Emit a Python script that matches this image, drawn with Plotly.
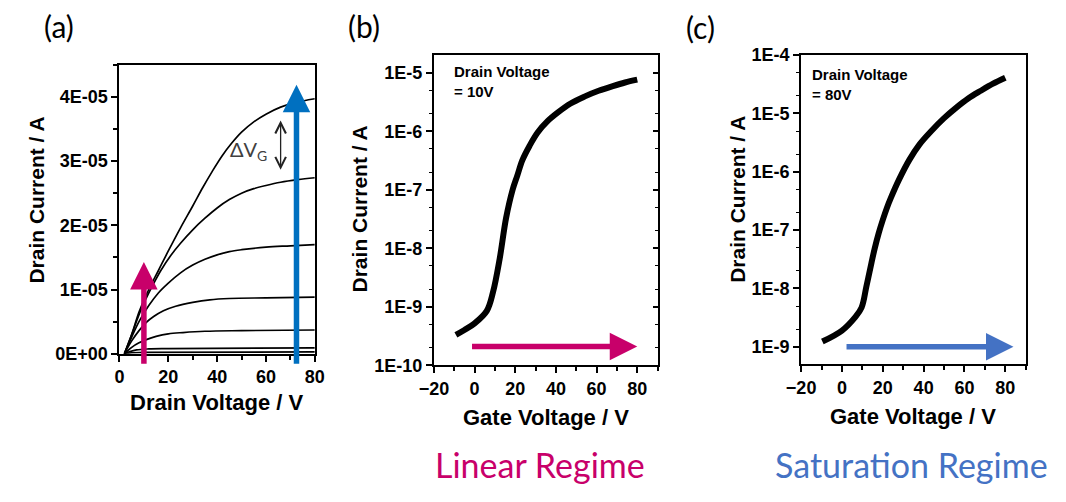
import math
import plotly.graph_objects as go

# ---- (a) output characteristics: drain current (1E-5 A) vs drain voltage (V)
vd_1 = [2, 5, 8, 12, 16, 20, 25, 30, 34, 38, 42, 46, 50, 55, 60, 66, 72, 80]
id_1 = [0, 0.3, 0.65, 1.0, 1.3, 1.6, 1.96, 2.3, 2.58, 2.84, 3.08, 3.28, 3.45, 3.61, 3.73, 3.84, 3.91, 3.97]
vd_2 = [2, 5, 9, 13, 17, 21, 25, 30, 35, 40, 45, 50, 55, 60, 66, 73, 80]
id_2 = [0, 0.3, 0.7, 1.02, 1.3, 1.53, 1.72, 1.93, 2.11, 2.27, 2.4, 2.5, 2.57, 2.62, 2.67, 2.71, 2.74]
vd_3 = [2, 5, 8, 12, 16, 20, 25, 30, 35, 40, 45, 50, 60, 70, 80]
id_3 = [0, 0.26, 0.5, 0.75, 0.95, 1.1, 1.26, 1.38, 1.47, 1.54, 1.59, 1.62, 1.66, 1.68, 1.70]
vd_4 = [2, 5, 8, 11, 14, 18, 23, 30, 37, 45, 60, 80]
id_4 = [0, 0.2, 0.36, 0.49, 0.58, 0.67, 0.74, 0.8, 0.84, 0.86, 0.87, 0.88]
vd_5 = [2, 5, 8, 11, 15, 20, 26, 35, 50, 80]
id_5 = [0, 0.1, 0.17, 0.22, 0.27, 0.31, 0.33, 0.35, 0.36, 0.37]
vd_6 = [2, 4, 7, 12, 20, 80]
id_6 = [0, 0.03, 0.06, 0.075, 0.08, 0.09]
vd_7 = [2, 5, 10, 80]
id_7 = [0, 0.015, 0.02, 0.03]
output_curves = [(vd_1, id_1), (vd_2, id_2), (vd_3, id_3), (vd_4, id_4),
                 (vd_5, id_5), (vd_6, id_6), (vd_7, id_7)]

# ---- (b) transfer curve, drain voltage = 10 V
vg_lin = [-9.2, -5, 0, 6, 9.1, 12.3, 15.5, 18.7, 21, 23.5, 27, 31, 36, 41, 47, 54, 61, 68, 74, 80]
id_lin = [3.3e-10, 4.0e-10, 5.2e-10, 8.5e-10, 1.8e-9, 6.5e-9, 3.3e-8, 1.0e-7, 1.74e-7,
          3.2e-7, 5.6e-7, 9.5e-7, 1.5e-6, 2.1e-6, 2.95e-6, 3.9e-6, 4.9e-6, 5.9e-6, 6.8e-6, 7.6e-6]

# ---- (c) transfer curve, drain voltage = 80 V
vg_sat = [-9.6, 0, 6.4, 9.6, 12, 14.4, 16, 18, 20, 22, 24, 28, 33, 38, 44, 50, 56, 62, 68, 74, 80]
id_sat = [1.23e-9, 1.9e-9, 3.2e-9, 4.7e-9, 1.1e-8, 2.7e-8, 4.8e-8, 8.9e-8, 1.5e-7, 2.4e-7,
          3.6e-7, 7.4e-7, 1.6e-6, 2.95e-6, 5.1e-6, 8.3e-6, 1.26e-5, 1.82e-5, 2.45e-5, 3.24e-5, 4.1e-5]

# tick labels
a_xticks = [0, 20, 40, 60, 80]
a_yticks = [0, 1e-5, 2e-5, 3e-5, 4e-5]
a_yticktext = ["0E+00", "1E-05", "2E-05", "3E-05", "4E-05"]
g_xticks = [-20, 0, 20, 40, 60, 80]
b_yticks = [1e-10, 1e-9, 1e-8, 1e-7, 1e-6, 1e-5]
b_yticktext = ["1E-10", "1E-9", "1E-8", "1E-7", "1E-6", "1E-5"]
c_yticks = [1e-9, 1e-8, 1e-7, 1e-6, 1e-5, 1e-4]
c_yticktext = ["1E-9", "1E-8", "1E-7", "1E-6", "1E-5", "1E-4"]

PINK = "#C8006A"
BLUE_A = "#0070C0"
BLUE_C = "#4472C4"
W, H = 1066, 502
BOLD = dict(family="Arial, Liberation Sans, sans-serif", color="black", weight="bold")
SOFT = "Lato, Open Sans, sans-serif"


def px_x(p):
    return p / W


def px_y(p):
    return 1 - p / H


fig = go.Figure()

for vd, idd in output_curves:
    fig.add_trace(go.Scatter(x=vd, y=[v * 1e-5 for v in idd], mode="lines",
                             line=dict(color="black", width=1.7, shape="spline", smoothing=1.0),
                             xaxis="x", yaxis="y", showlegend=False, hoverinfo="skip"))

fig.add_trace(go.Scatter(x=vg_lin, y=id_lin, mode="lines",
                         line=dict(color="black", width=6, shape="spline", smoothing=1.0),
                         xaxis="x2", yaxis="y2", showlegend=False))
# carries the inward mirror ticks on the right edge of (b)
fig.add_trace(go.Scatter(x=vg_lin, y=id_lin, mode="lines", line=dict(width=0),
                         opacity=0, xaxis="x2", yaxis="y4", showlegend=False, hoverinfo="skip"))
fig.add_trace(go.Scatter(x=vg_sat, y=id_sat, mode="lines",
                         line=dict(color="black", width=6, shape="spline", smoothing=1.0),
                         xaxis="x3", yaxis="y3", showlegend=False))

frame = dict(showline=True, linecolor="black", linewidth=2, mirror=True,
             showgrid=False, zeroline=False, ticks="outside", tickwidth=2,
             ticklen=6, tickcolor="black", tickfont=dict(size=18, **BOLD))

fig.update_layout(
    width=W, height=H, margin=dict(l=0, r=0, t=0, b=0),
    paper_bgcolor="white", plot_bgcolor="white",
    xaxis=dict(domain=[px_x(107), px_x(307)], range=[0, 80], anchor="y",
               tickvals=a_xticks, minor=dict(dtick=10, tick0=0, ticks="outside", ticklen=4,
                                             tickwidth=1.5, tickcolor="black"), **frame),
    yaxis=dict(domain=[px_y(358), px_y(57)], range=[0, 4.5e-5], anchor="x",
               tickvals=a_yticks, ticktext=a_yticktext,
               minor=dict(dtick=5e-6, tick0=0, ticks="outside", ticklen=4,
                          tickwidth=1.5, tickcolor="black"), **frame),
    xaxis2=dict(domain=[px_x(429), px_x(658)], range=[-20, 90], anchor="y2",
                tickvals=g_xticks, minor=dict(dtick=10, tick0=0, ticks="outside", ticklen=4,
                                              tickwidth=1.5, tickcolor="black"), **frame),
    yaxis2=dict(domain=[px_y(370), px_y(47)], type="log", range=[-10, -4.7], anchor="x2",
                tickvals=b_yticks, ticktext=b_yticktext,
                minor=dict(ticks="outside", ticklen=3, tickwidth=1, tickcolor="black"), **frame),
    yaxis4=dict(overlaying="y2", side="right", type="log", range=[-10, -4.7], anchor="x2",
                showticklabels=False, showgrid=False, zeroline=False, showline=False,
                tickvals=b_yticks, ticks="inside", ticklen=5, tickwidth=2, tickcolor="black",
                minor=dict(ticks="inside", ticklen=3, tickwidth=1, tickcolor="black")),
    xaxis3=dict(domain=[px_x(805), px_x(1035)], range=[-20, 90], anchor="y3",
                tickvals=g_xticks, minor=dict(dtick=10, tick0=0, ticks="outside", ticklen=4,
                                              tickwidth=1.5, tickcolor="black"), **frame),
    yaxis3=dict(domain=[px_y(369), px_y(47)], type="log", range=[-9.3, -4], anchor="x3",
                tickvals=c_yticks, ticktext=c_yticktext,
                minor=dict(ticks="outside", ticklen=3, tickwidth=1, tickcolor="black"), **frame),
)

ann = []


def label(text, x, y, size, angle=0, font=None, color="black", xanchor="center", yanchor="middle", align="center"):
    f = dict(font or BOLD)
    f.update(size=size, color=color)
    ann.append(dict(text=text, x=px_x(x), y=px_y(y), xref="paper", yref="paper",
                    showarrow=False, textangle=angle, font=f,
                    xanchor=xanchor, yanchor=yanchor, align=align))


# axis titles
label("Drain Current / A", 22, 198, 21, angle=-90)
label("Drain Voltage / V", 207, 409, 22)
label("Drain Current / A", 353, 207, 21, angle=-90)
label("Gate Voltage / V", 544, 424, 22)
label("Drain Current / A", 739, 197, 21, angle=-90)
label("Gate Voltage / V", 920, 423, 22)

# panel letters and regime captions
plain = dict(family=SOFT, weight="normal")
label("(a)", 45, 17, 30, font=plain)
label("(b)", 357, 17, 30, font=plain)
label("(c)", 702, 18, 30, font=plain)
label("Linear Regime", 538, 473, 34, font=plain, color=PINK)
label("Saturation Regime", 918, 473, 34, font=plain, color=BLUE_C)

# drain voltage notes inside (b) and (c)
label("Drain Voltage<br>= 10V", 447, 53, 15, xanchor="left", yanchor="top", align="left")
label("Drain Voltage<br>= 80V", 814, 56, 15, xanchor="left", yanchor="top", align="left")

# ΔVG marker in (a)
ann.append(dict(text="ΔV<sub>G</sub>", x=53, y=3.17e-5, xref="x", yref="y", showarrow=False,
                font=dict(family=SOFT, size=20, color="#404040"), xanchor="center", yanchor="middle"))
ann.append(dict(x=66, y=3.63e-5, ax=66, ay=2.84e-5, xref="x", yref="y", axref="x", ayref="y",
                text="", showarrow=True, arrowside="end+start", arrowhead=5, startarrowhead=5,
                arrowsize=1.6, startarrowsize=1.6, arrowwidth=1.3, arrowcolor="#222222"))

# thick direction arrows
ann.append(dict(x=10, y=1.43e-5, ax=10, ay=-0.18e-5, xref="x", yref="y", axref="x", ayref="y",
                text="", showarrow=True, arrowhead=2, arrowsize=1.0, arrowwidth=5.5,
                arrowcolor=PINK))
ann.append(dict(x=72.5, y=4.19e-5, ax=72.5, ay=-0.18e-5, xref="x", yref="y", axref="x", ayref="y",
                text="", showarrow=True, arrowhead=2, arrowsize=1.0, arrowwidth=5.5,
                arrowcolor=BLUE_A))
ann.append(dict(x=80, y=math.log10(2.1e-10), ax=-2, ay=math.log10(2.1e-10),
                xref="x2", yref="y2", axref="x2", ayref="y2",
                text="", showarrow=True, arrowhead=2, arrowsize=1.0, arrowwidth=5.5,
                arrowcolor=PINK))
ann.append(dict(x=84, y=math.log10(1e-9), ax=1.5, ay=math.log10(1e-9),
                xref="x3", yref="y3", axref="x3", ayref="y3",
                text="", showarrow=True, arrowhead=2, arrowsize=1.0, arrowwidth=5.5,
                arrowcolor=BLUE_C))

fig.update_layout(annotations=ann)
fig.write_html("out.html")
